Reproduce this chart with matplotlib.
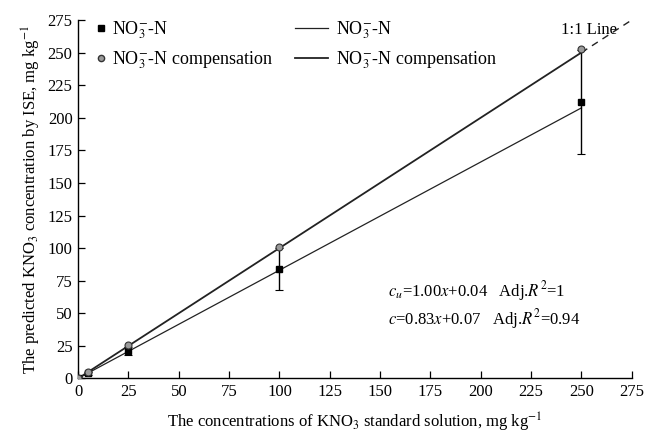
import matplotlib
matplotlib.use("Agg")
import matplotlib.pyplot as plt
import numpy as np
from matplotlib.lines import Line2D

plt.rcParams['font.family'] = ['Liberation Serif', 'DejaVu Serif']
plt.rcParams['mathtext.fontset'] = 'stix'
plt.rcParams['font.size'] = 12

# standard solution concentrations, mg kg-1
conc = [0, 5, 25, 100, 250]
# ISE predicted NO3-N, with error
no3 = [0.5, 4, 21, 84, 212]
no3_err = [0.5, 1, 3, 16, 40]
# compensated values
no3_comp = [0.5, 5, 25.5, 101, 253]

# fitted lines: c = a*x + b
fit_raw = (0.83, 0.07)
fit_comp = (1.00, 0.04)
line_1to1 = [250, 276]

xticks = list(range(0, 276, 25))
yticks = list(range(0, 276, 25))

fig = plt.figure(figsize=(6.46, 4.34), dpi=100)
ax = fig.add_axes([0.121, 0.128, 0.857, 0.826])

xs = np.array([0, 250])
ax.plot(xs, fit_raw[0] * xs + fit_raw[1], color='#222222', lw=0.9, zorder=2)
ax.plot(xs, fit_comp[0] * xs + fit_comp[1], color='#222222', lw=1.3, zorder=2)
ax.plot(line_1to1, line_1to1, color='#222222', lw=1.0, ls=(0, (5, 4)),
        zorder=2, clip_on=False)

ax.errorbar(conc, no3, yerr=no3_err, fmt='s', color='black', ms=4.5,
            ecolor='black', elinewidth=1.0, capsize=3, capthick=0.8, zorder=3)
ax.plot(conc, no3_comp, 'o', ms=5, mfc='#9a9a9a', mec='#333333', mew=0.8, zorder=4)

ax.set_xlim(0, 275)
ax.set_ylim(0, 275)
ax.set_xticks(xticks)
ax.set_yticks(yticks)
ax.tick_params(direction='in', length=5, width=0.9, labelsize=12, pad=4)
ax.spines['top'].set_visible(False)
ax.spines['right'].set_visible(False)
for s in ('left', 'bottom'):
    ax.spines[s].set_linewidth(1.0)

ax.set_xlabel('The concentrations of KNO$_3$ standard solution, mg kg$^{-1}$',
              fontsize=12, labelpad=8)
ax.set_ylabel('The predicted KNO$_3$ concentration by ISE, mg kg$^{-1}$',
              fontsize=12, labelpad=3)

labels = ['NO$_3^{-}$-N', 'NO$_3^{-}$-N compensation']
pt_handles = [
    Line2D([], [], marker='s', ls='none', color='black', ms=4),
    Line2D([], [], marker='o', ls='none', mfc='#9a9a9a', mec='#333333', ms=4.5),
]
ln_handles = [
    Line2D([], [], color='#222222', lw=0.9),
    Line2D([], [], color='#222222', lw=1.3),
]
fig.legend(pt_handles, labels, frameon=False, fontsize=13,
           loc='upper left', bbox_to_anchor=(96 / 646, 0.955),
           borderaxespad=0, borderpad=0,
           handlelength=0.6, handletextpad=0.3, labelspacing=0.45)
fig.legend(ln_handles, labels, frameon=False, fontsize=13,
           loc='upper left', bbox_to_anchor=(295 / 646, 0.955),
           borderaxespad=0, borderpad=0,
           handlelength=1.8, handletextpad=0.45, labelspacing=0.45)

ax.text(0.872, 0.972, '1:1 Line', transform=ax.transAxes, fontsize=12,
        ha='left', va='center')

ax.text(0.56, 0.23,
        '$c_u$=%.2f$x$+%.2f   Adj.$R^2$=1' % fit_comp,
        transform=ax.transAxes, fontsize=12)
ax.text(0.56, 0.15,
        '$c$=%.2f$x$+%.2f   Adj.$R^2$=0.94' % fit_raw,
        transform=ax.transAxes, fontsize=12)

fig.savefig('out.png', dpi=100)
